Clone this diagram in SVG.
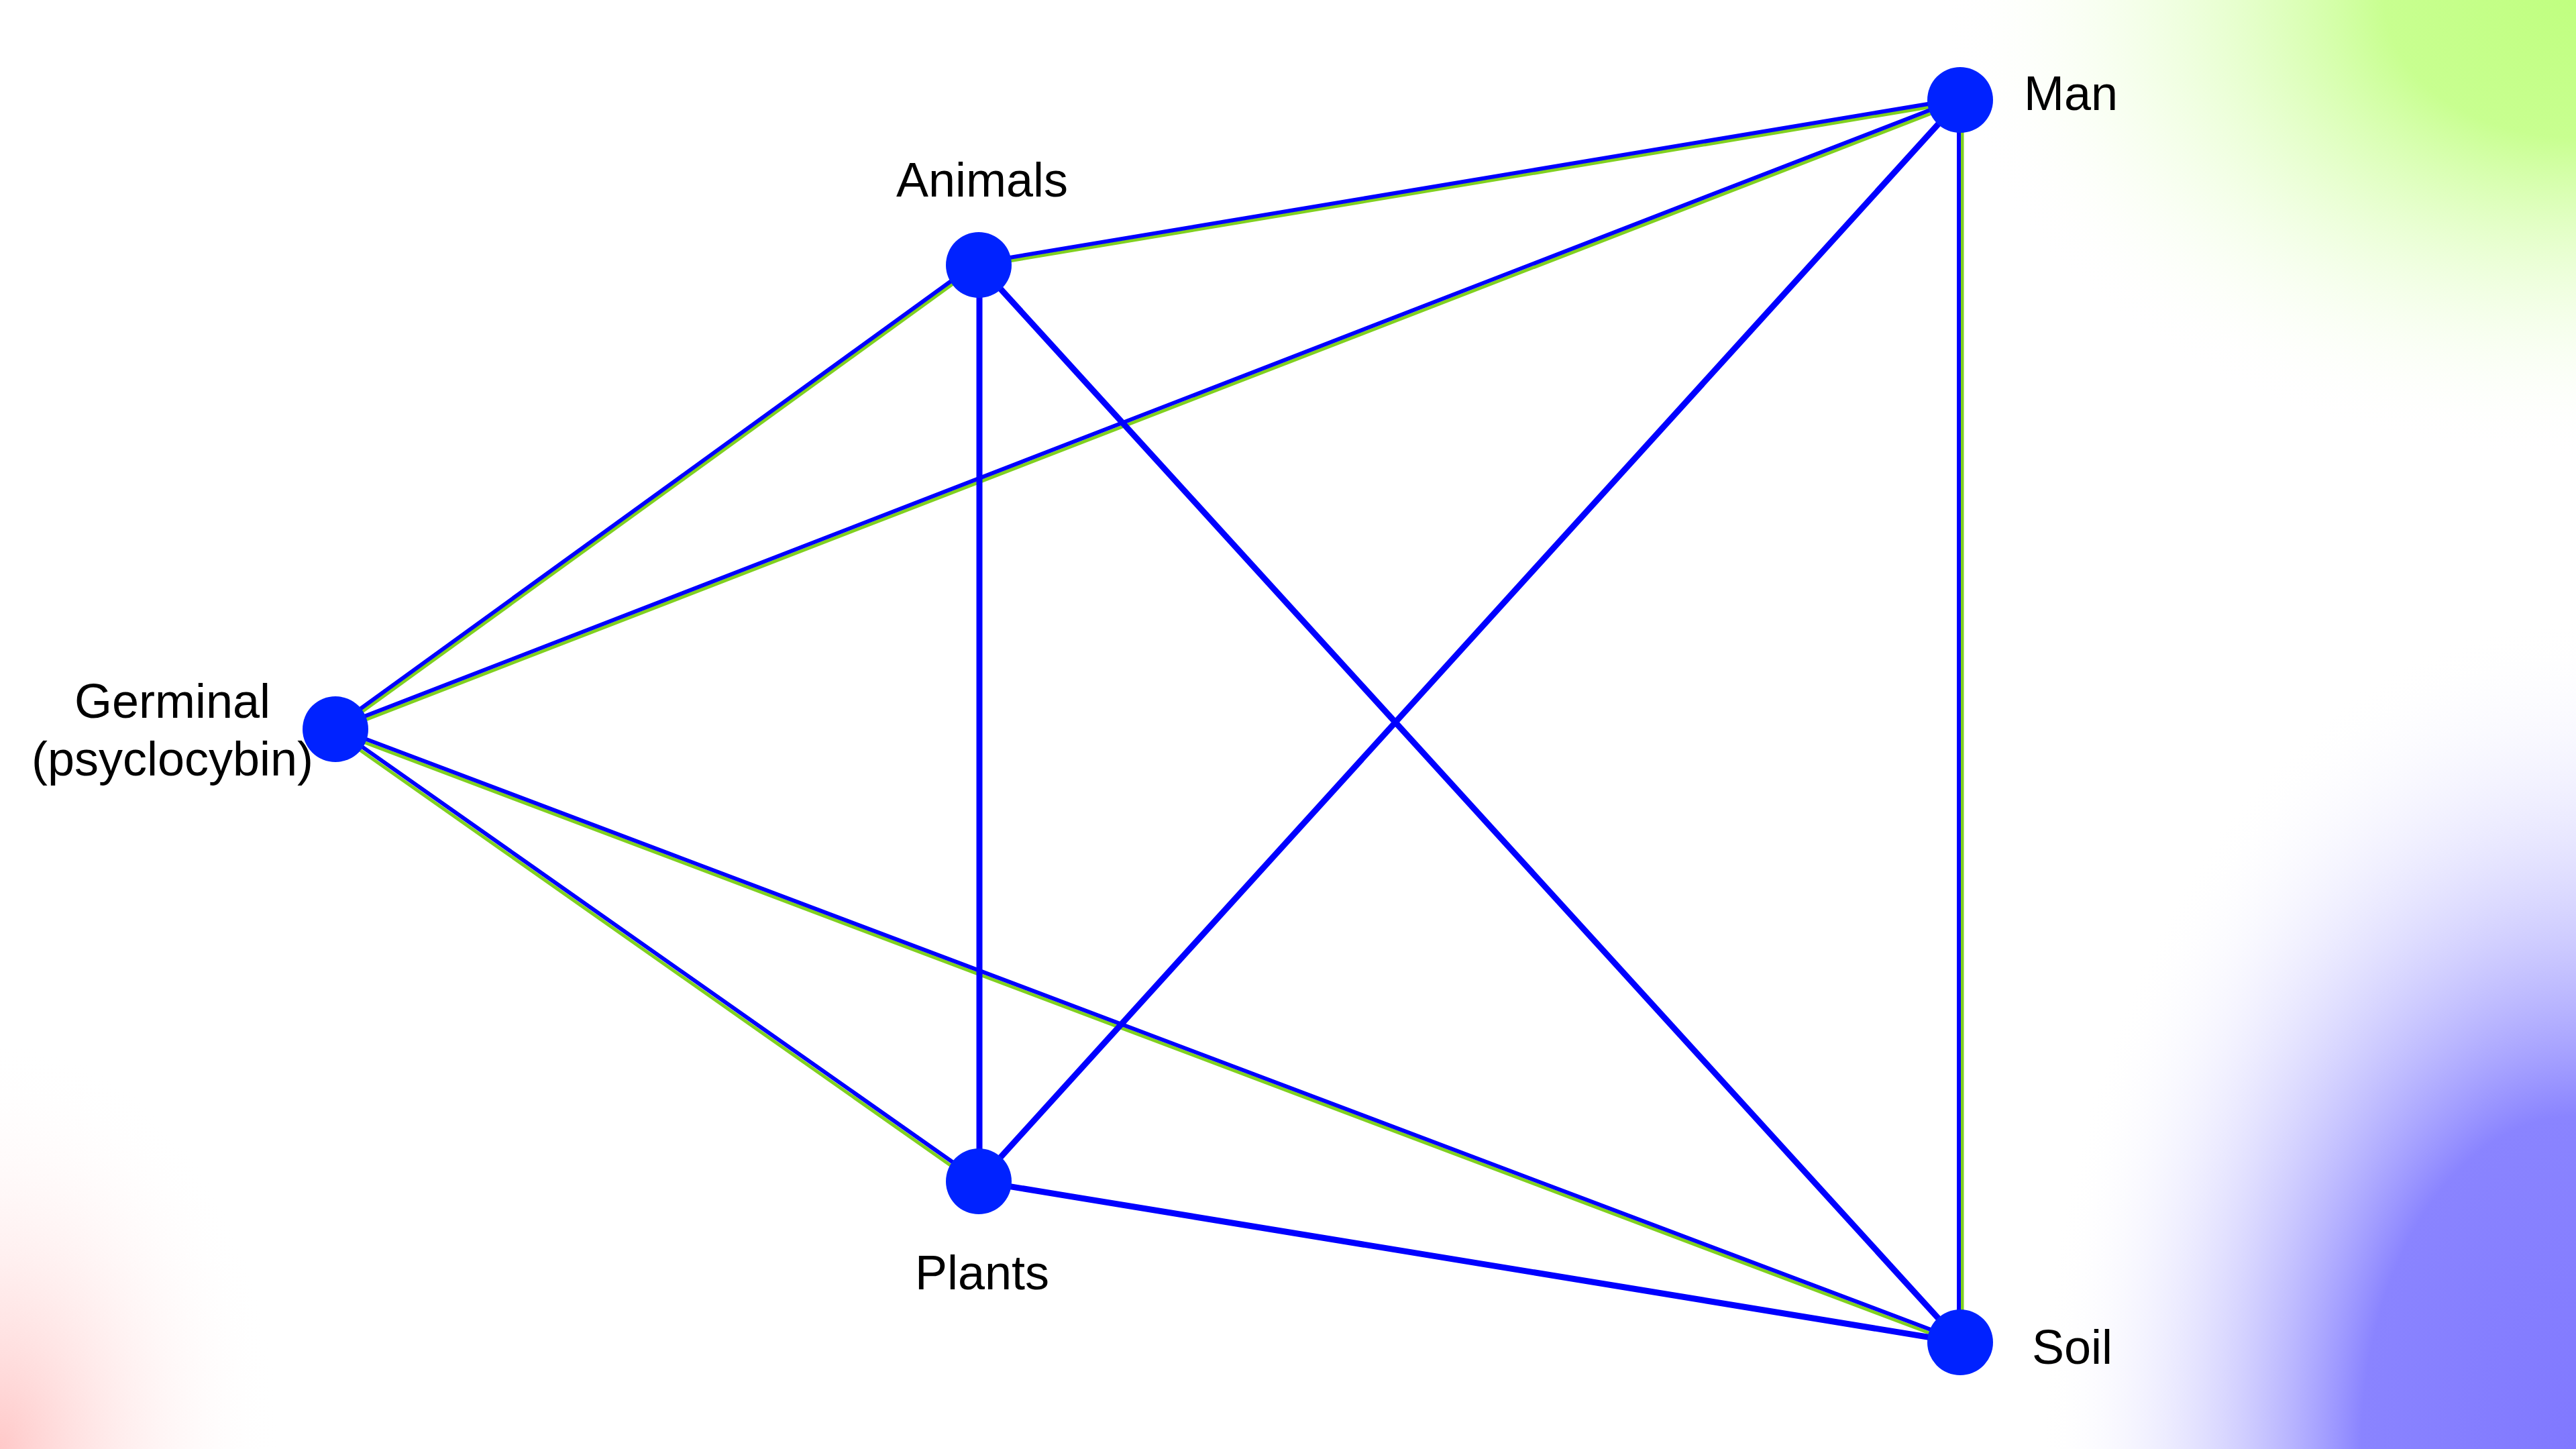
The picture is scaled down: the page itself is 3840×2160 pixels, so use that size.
<svg xmlns="http://www.w3.org/2000/svg" width="3840" height="2160" viewBox="0 0 3840 2160">
<defs>
<radialGradient id="gG" cx="0" cy="0" r="950" gradientUnits="userSpaceOnUse" gradientTransform="translate(3840,0) scale(1,0.72)"><stop offset="0" stop-color="#c0ff80"/><stop offset="0.3" stop-color="#c8ff90"/><stop offset="1" stop-color="#ffffff" stop-opacity="0"/></radialGradient>
<radialGradient id="gB" cx="0" cy="0" r="800" gradientUnits="userSpaceOnUse" gradientTransform="translate(3840,2160) scale(1,1.55)"><stop offset="0" stop-color="#8078ff"/><stop offset="0.4" stop-color="#8a84ff"/><stop offset="1" stop-color="#ffffff" stop-opacity="0"/></radialGradient>
<radialGradient id="gR" cx="0" cy="0" r="420" gradientUnits="userSpaceOnUse" gradientTransform="translate(0,2160) scale(1,1.45)"><stop offset="0" stop-color="#ffc8c8"/><stop offset="1" stop-color="#ffffff" stop-opacity="0"/></radialGradient>
</defs>
<style>
.g{stroke:#80d020;stroke-width:5;fill:none}
.b{stroke:#0000ff;stroke-width:6;fill:none}
.s{stroke:#0000ff;stroke-width:9;fill:none}
.n{fill:#0022ff}
.t{font-family:"Liberation Sans",Arial,sans-serif;font-size:72px;fill:#000}
</style>
<rect width="3840" height="2160" fill="#fff"/>
<rect width="3840" height="2160" fill="url(#gG)"/>
<rect width="3840" height="2160" fill="url(#gB)"/>
<rect width="3840" height="2160" fill="url(#gR)"/>
<g id="connectors">
<line class="g" x1="1457" y1="397" x2="2922" y2="152"/><line class="b" x1="1457" y1="392" x2="2922" y2="147"/>
<line class="g" x1="501" y1="1089" x2="1458" y2="396"/><line class="b" x1="498" y1="1085" x2="1455" y2="392"/>
<line class="g" x1="501" y1="1090" x2="2923" y2="152"/><line class="b" x1="499" y1="1085" x2="2921" y2="147"/>
<line class="g" x1="498" y1="1091" x2="1455" y2="1764"/><line class="b" x1="501" y1="1086" x2="1458" y2="1759"/>
<line class="g" x1="499" y1="1090" x2="2921" y2="2004"/><line class="b" x1="501" y1="1085" x2="2923" y2="1999"/>
<line class="g" x1="2925" y1="149" x2="2925" y2="2001"/><line class="b" x1="2920" y1="149" x2="2920" y2="2001"/>
<line class="s" x1="1460" y1="394" x2="1460" y2="1761"/>
<line class="s" x1="1459" y1="395" x2="2922" y2="2001"/>
<line class="s" x1="2922" y1="149" x2="1459" y2="1761"/>
<line class="s" x1="1459" y1="1761" x2="2922" y2="2001"/>
</g>
<g id="n-animals"><circle class="n" cx="1459" cy="395" r="49"/><text class="t" x="1464" y="293" text-anchor="middle">Animals</text></g>
<g id="n-man"><circle class="n" cx="2922" cy="149" r="49"/><text class="t" x="3017" y="164">Man</text></g>
<g id="n-germinal"><circle class="n" cx="500" cy="1087" r="49"/><text class="t" x="257" y="1070" text-anchor="middle">Germinal</text><text class="t" x="257" y="1156" text-anchor="middle">(psyclocybin)</text></g>
<g id="n-plants"><circle class="n" cx="1459" cy="1761" r="49"/><text class="t" x="1464" y="1922" text-anchor="middle">Plants</text></g>
<g id="n-soil"><circle class="n" cx="2922" cy="2001" r="49"/><text class="t" x="3029" y="2033">Soil</text></g>
</svg>
